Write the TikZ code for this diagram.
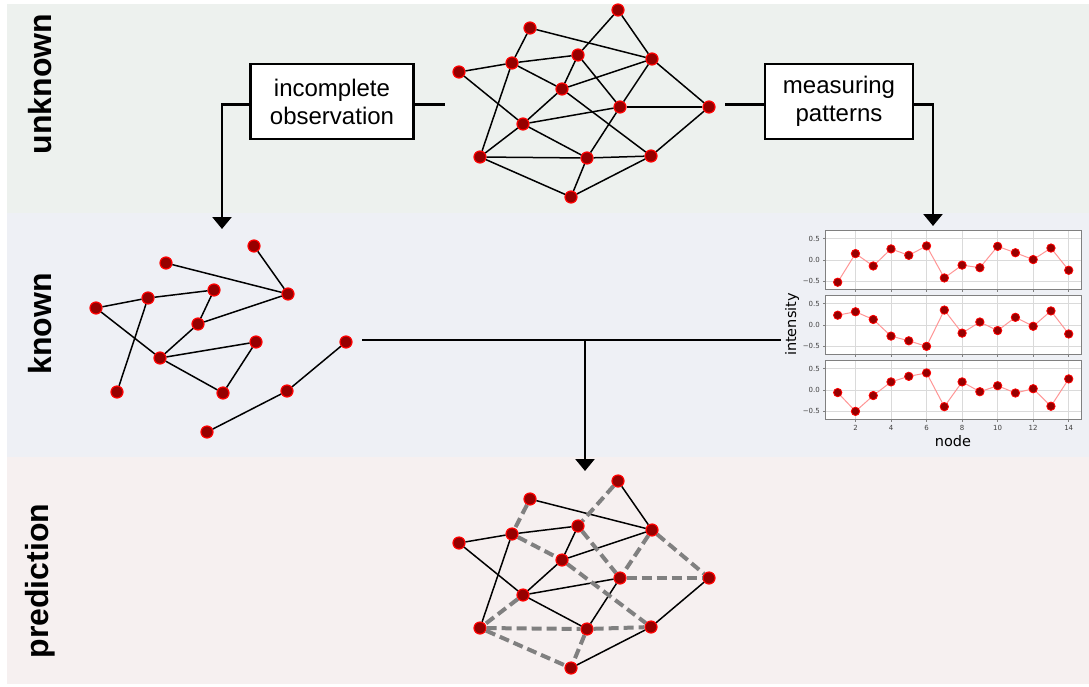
\documentclass[tikz,border=0pt]{standalone}
\usepackage{fontspec}
\setmainfont{Liberation Sans}
\newfontfamily\plotfont{DejaVu Sans}
\usetikzlibrary{arrows.meta}

\definecolor{unknownbg}{RGB}{237,241,238}
\definecolor{knownbg}{RGB}{238,240,245}
\definecolor{predbg}{RGB}{246,240,240}
\definecolor{nodered}{RGB}{150,0,0}
\definecolor{linkred}{RGB}{255,150,150}
\definecolor{gridgray}{RGB}{218,218,218}

\tikzset{
  vertex/.style={circle, fill=nodered, draw=red, line width=1.2pt, minimum size=12pt, inner sep=0pt},
  wire/.style={draw=black, line width=1.5pt},
  guess/.style={draw=gray, line width=4pt, dash pattern=on 10pt off 5pt},
  stepbox/.style={draw, fill=white, line width=2.8pt, minimum height=75pt, align=center,
    font=\fontsize{24}{28}\selectfont},
  link/.style={line width=2.6pt},
  flow/.style={line width=2.6pt, -{Triangle[width=19pt,length=12pt]}},
  layer/.style={rotate=90, font=\fontsize{32}{36}\selectfont\bfseries},
  tick/.style={font=\plotfont\fontsize{7}{8}\selectfont, text=darkgray, inner sep=1pt},
}

\begin{document}
\begin{tikzpicture}[x=1pt, y=-1pt]
  \useasboundingbox (0,0) rectangle (1089,686);

  % Layer backgrounds
  \fill[unknownbg] (7,4) rectangle (1089,213);
  \fill[knownbg] (7,213) rectangle (1089,457);
  \fill[predbg] (7,457) rectangle (1089,684);

  % Unknown Layer
  \node[layer] (unknownlbl) at (40,84) {unknown};
  \foreach \n/\x/\y in {1/618/10, 2/530/28, 3/512/63, 4/578/55, 5/652/59, 6/459/72, 7/562/89,
      8/620/107, 9/709/107, 10/523/124, 11/480/157, 12/587/158, 13/651/156, 14/571/197}
    \node[vertex] (u\n) at (\x,\y) {};
  \foreach \a/\b in {1/4, 1/5, 2/3, 2/5, 3/4, 3/6, 3/7, 3/11, 4/7, 4/8, 5/7, 5/8, 5/9, 6/10,
      7/10, 7/13, 8/9, 8/10, 8/12, 9/13, 10/11, 10/12, 11/12, 11/14, 12/13, 12/14, 13/14}
    \draw[wire] (u\a) -- (u\b);

  \node[stepbox, minimum width=163pt] (obsbox) at (332,101.5) {incomplete\\observation};
  \node[stepbox, minimum width=148pt] (patbox) at (839,101.5) {measuring\\patterns};
  \coordinate (obsin) at (445,104.5);
  \coordinate (obsout) at (222,229);
  \coordinate (patin) at (725,104.5);
  \coordinate (patout) at (933,226);
  \draw[link] (obsbox.east |- obsin) -- (obsin);
  \draw[flow] (obsbox.west |- obsin) -| (obsout);
  \draw[link] (patbox.west |- patin) -- (patin);
  \draw[flow] (patbox.east |- patin) -| (patout);

  % Known Layer
  \node[layer] (knownlbl) at (40,324) {known};
  \foreach \n/\x/\y in {1/254/246, 2/166/263, 3/148/298, 4/214/290, 5/288/294, 6/96/308, 7/198/324,
      8/256/342, 9/346/342, 10/160/358, 11/117/392, 12/223/393, 13/287/391, 14/207/432}
    \node[vertex] (k\n) at (\x,\y) {};
  \foreach \a/\b in {1/5, 2/5, 3/4, 3/6, 3/11, 4/7, 5/7, 6/10, 7/10, 8/10, 8/12, 9/13, 10/12, 13/14}
    \draw[wire] (k\a) -- (k\b);

  % Measured Patterns
  \foreach \yc/\vals in {260/{-0.52,0.15,-0.14,0.26,0.11,0.33,-0.42,-0.12,-0.18,0.32,0.17,0.01,0.28,-0.24},
      325/{0.23,0.31,0.13,-0.26,-0.37,-0.50,0.35,-0.19,0.07,-0.13,0.18,-0.03,0.33,-0.21},
      390/{-0.06,-0.50,-0.13,0.19,0.32,0.40,-0.39,0.19,-0.04,0.10,-0.07,0.03,-0.38,0.26}} {
    \fill[white] (825,\yc-29.5) rectangle (1081,\yc+29.5);
    \foreach \k in {2,4,...,14} {
      \draw[gridgray, line width=0.8pt] ({837.7+(\k-1)*17.77},\yc-29.5) -- ++(0,59);
      \draw[gray, line width=0.6pt] ({837.7+(\k-1)*17.77},\yc+29.5) -- ++(0,2.5);
    }
    \foreach \v/\t in {0.5/0.5, 0/0.0, -0.5/−0.5} {
      \draw[gridgray, line width=0.8pt] (825,{\yc-42.7*(\v)}) -- (1081,{\yc-42.7*(\v)});
      \draw[gray, line width=0.6pt] (825,{\yc-42.7*(\v)}) -- ++(-2.5,0);
      \node[tick, anchor=east] at (821,{\yc-42.7*(\v)}) {\t};
    }
    \draw[gray, line width=1pt] (825,\yc-29.5) rectangle (1081,\yc+29.5);
    \foreach \v [count=\k, remember=\v as \lastv (initially 0)] in \vals {
      \ifnum\k>1
        \draw[linkred, line width=1pt] ({837.7+(\k-2)*17.77},{\yc-42.7*(\lastv)})
          -- ({837.7+(\k-1)*17.77},{\yc-42.7*(\v)});
      \fi
    }
    \foreach \v [count=\k] in \vals
      \draw[fill=nodered, draw=red, line width=0.8pt] ({837.7+(\k-1)*17.77},{\yc-42.7*(\v)}) circle[radius=4.2pt];
  }
  \foreach \k in {2,4,...,14}
    \node[tick] at ({837.7+(\k-1)*17.77},428) {\k};
  \node[rotate=90, font=\plotfont\fontsize{14.5}{16}\selectfont] (intlbl) at (792,324.5) {intensity};
  \node[font=\plotfont\fontsize{14.5}{16}\selectfont] (nodelbl) at (953,441) {node};

  \coordinate (knownout) at (362,340);
  \coordinate (plotin) at (781,340);
  \coordinate (join) at (585,340);
  \coordinate (predin) at (585,471);
  \draw[link] (knownout) -- (plotin);
  \draw[flow] (join) -- (predin);

  % Prediction Layer
  \node[layer] (predlbl) at (40,581) {prediction};
  \foreach \n/\x/\y in {1/618/10, 2/530/28, 3/512/63, 4/578/55, 5/652/59, 6/459/72, 7/562/89,
      8/620/107, 9/709/107, 10/523/124, 11/480/157, 12/587/158, 13/651/156, 14/571/197}
    \node[vertex] (p\n) at (\x,\y+471) {};
  \foreach \a/\b in {1/5, 2/5, 3/4, 3/6, 3/11, 4/7, 5/7, 6/10, 7/10, 8/10, 8/12, 9/13, 10/12, 13/14}
    \draw[wire] (p\a) -- (p\b);
  \foreach \a/\b in {1/4, 2/3, 3/7, 7/13, 4/8, 5/8, 5/9, 8/9, 10/11, 11/12, 12/13, 11/14, 12/14}
    \draw[guess] (p\a) -- (p\b);
\end{tikzpicture}
\end{document}
